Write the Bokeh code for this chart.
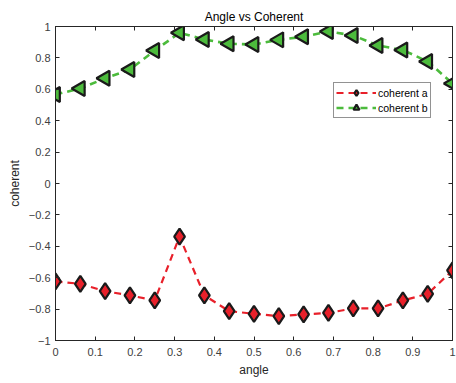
import math
from bokeh.plotting import figure
from bokeh.models import LinearAxis, Range1d, FixedTicker, Legend, LegendItem, CustomJSTickFormatter
from bokeh.embed import file_html
from bokeh.resources import INLINE

angle = [i / 16 for i in range(17)]
coherent_a = [-0.624, -0.639, -0.686, -0.713, -0.745, -0.338, -0.713, -0.813, -0.830,
              -0.845, -0.834, -0.824, -0.796, -0.796, -0.745, -0.703, -0.554]
coherent_b = [0.567, 0.605, 0.670, 0.726, 0.847, 0.960, 0.917, 0.890, 0.885,
              0.915, 0.935, 0.968, 0.943, 0.879, 0.850, 0.777, 0.637]
x_ticks = [0, 0.1, 0.2, 0.3, 0.4, 0.5, 0.6, 0.7, 0.8, 0.9, 1]
y_ticks = [-1, -0.8, -0.6, -0.4, -0.2, 0, 0.2, 0.4, 0.6, 0.8, 1]

FONT = "Liberation Sans"
AXC = "#262626"
RED = "#e8202a"
GREEN = "#4cbb3c"

p = figure(width=456, height=383, output_backend="svg", toolbar_location=None,
           x_range=Range1d(0, 1), y_range=Range1d(-1, 1),
           min_border_left=55, min_border_right=4, min_border_top=26, min_border_bottom=43,
           title="Angle vs Coherent")
p.title.align = "center"
p.title.text_font = FONT
p.title.text_font_size = "12px"
p.title.text_font_style = "normal"
p.title.text_color = "#000000"
p.title.standoff = 5
p.title.offset = 0
p.grid.visible = False
p.outline_line_color = AXC
p.outline_line_width = 1
p.background_fill_color = "white"
p.border_fill_color = "white"

p.xaxis.ticker = FixedTicker(ticks=x_ticks)
p.yaxis.ticker = FixedTicker(ticks=y_ticks)
for ax in [p.xaxis[0], p.yaxis[0]]:
    ax.major_tick_in = 4
    ax.major_tick_out = 0
    ax.minor_tick_line_color = None
    ax.axis_line_color = AXC
    ax.major_tick_line_color = AXC
    ax.major_label_text_font = FONT
    ax.major_label_text_font_size = "11px"
    ax.major_label_text_color = "#404040"
    ax.major_label_standoff = 5
    ax.axis_label_text_font = FONT
    ax.axis_label_text_font_size = "12px"
    ax.axis_label_text_font_style = "normal"
    ax.axis_label_text_color = "#262626"
    ax.axis_label_standoff = 4
p.xaxis[0].major_label_standoff = 7
p.xaxis.axis_label = "angle"
p.yaxis.axis_label = "coherent"

blank = CustomJSTickFormatter(code="return '';")
top = LinearAxis(ticker=FixedTicker(ticks=x_ticks), major_tick_in=4, major_tick_out=0,
                 minor_tick_line_color=None, formatter=blank,
                 major_label_standoff=0, axis_line_color=AXC, major_tick_line_color=AXC)
right = LinearAxis(ticker=FixedTicker(ticks=y_ticks), major_tick_in=4, major_tick_out=0,
                   minor_tick_line_color=None, formatter=blank,
                   major_label_standoff=0, axis_line_color=AXC, major_tick_line_color=AXC)
p.add_layout(top, "above")
p.add_layout(right, "right")

la = p.line(angle, coherent_a, line_color=RED, line_width=2.2, line_dash="7 5")
ma = p.scatter(angle, coherent_a, marker="diamond", size=16, fill_color=RED,
               line_color="#1a1a1a", line_width=2.2)
lb = p.line(angle, coherent_b, line_color=GREEN, line_width=2.6, line_dash="7 5")
mb = p.scatter(angle, coherent_b, marker="triangle", angle=math.pi / 2, size=15,
               fill_color=GREEN, line_color="#1a1a1a", line_width=2.2)

legend = Legend(items=[LegendItem(label="coherent a", renderers=[la, ma]),
                       LegendItem(label="coherent b", renderers=[lb, mb])],
                location=(278, 222), orientation="vertical")
legend.label_text_font = FONT
legend.label_text_font_size = "10.5px"
legend.label_text_color = "#000000"
legend.glyph_width = 40
legend.glyph_height = 15
legend.label_height = 15
legend.label_standoff = 2
legend.spacing = 0
legend.padding = 2
legend.margin = 0
legend.border_line_color = AXC
legend.border_line_width = 1
legend.background_fill_alpha = 1
p.add_layout(legend, "center")

open("out.html", "w").write(file_html(p, INLINE))
